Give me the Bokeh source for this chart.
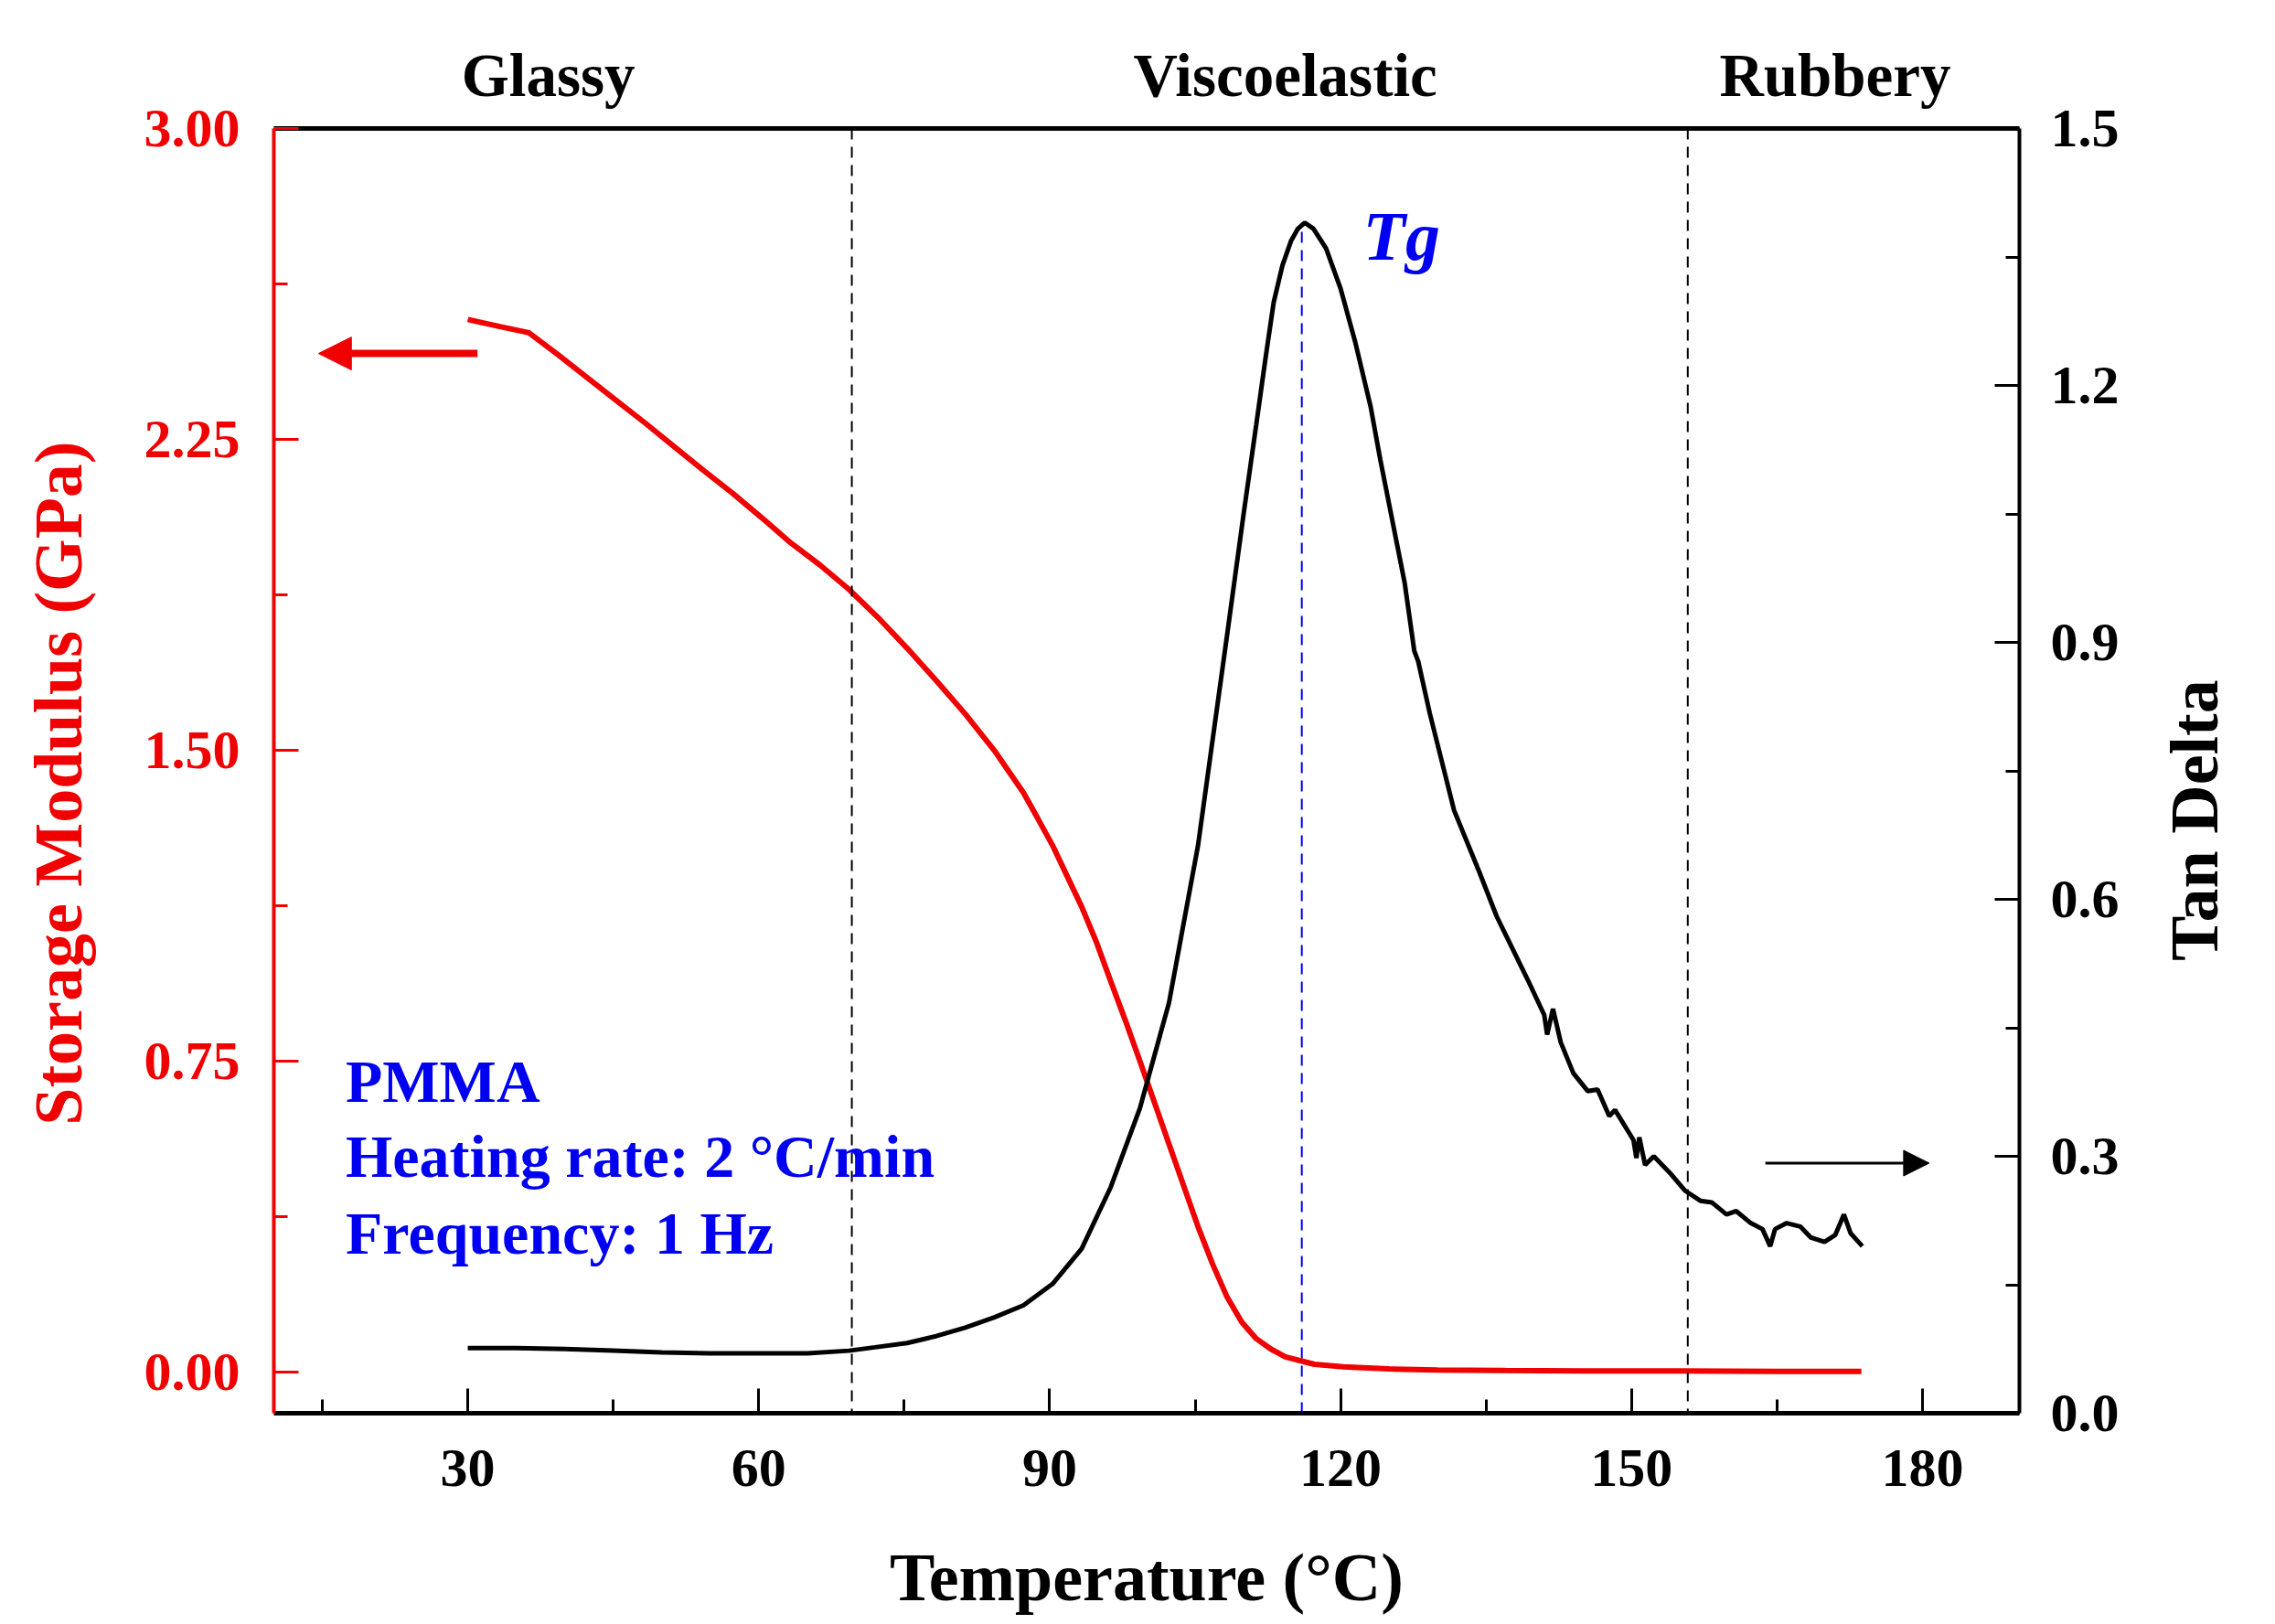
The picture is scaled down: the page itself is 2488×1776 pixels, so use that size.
import math
from bokeh.plotting import figure
from bokeh.models import (Range1d, LinearAxis, FixedTicker, PrintfTickFormatter,
                          Span, Label, Arrow, NormalHead)
from bokeh.embed import file_html
from bokeh.resources import INLINE

FONT = "Liberation Serif"

# ---- data ----
temp_E = [30, 33.3, 36.3, 39.3, 42.3, 45.3, 48.3, 51.3, 54.3, 57.3, 60.3, 63.3, 66.3,
          69.3, 72.3, 75.3, 78.3, 81.3, 84.3, 87.3, 88.8, 90.3, 91.8, 93.3, 94.8, 96.3,
          97.8, 99.3, 100.8, 102.3, 103.8, 105.3, 106.8, 108.3, 109.8, 111.3, 112.8,
          114.3, 117.3, 120.3, 125, 130, 137, 145, 155, 165, 173.7]
modulus = [2.539, 2.522, 2.507, 2.454, 2.399, 2.344, 2.289, 2.232, 2.175, 2.120, 2.061,
           2.000, 1.947, 1.888, 1.820, 1.746, 1.668, 1.587, 1.499, 1.397, 1.334, 1.270,
           1.196, 1.122, 1.038, 0.942, 0.848, 0.750, 0.650, 0.550, 0.450, 0.350, 0.260,
           0.180, 0.120, 0.080, 0.055, 0.036, 0.018, 0.012, 0.007, 0.004, 0.003, 0.002,
           0.002, 0.001, 0.001]

temp_tan = [30, 35, 40, 45, 50, 55, 60, 65, 69.3, 72, 75.3, 78.3, 81.3, 84.3, 87.3, 90.3,
            93.3, 96.3, 99.3, 102.3, 105.3, 108.3, 110.0, 111.3, 112.3, 113.1, 114.0,
            114.9, 115.6, 116.3, 117.2, 118.5, 120, 121.5, 123.1, 124.1, 126.6, 127.6,
            128.0, 129.2, 131.7, 134.3, 136.1, 139.3, 141.0, 141.3, 141.9, 142.7, 144.0,
            145.5, 146.5, 147.7, 148.3, 150.2, 150.5, 150.8, 151.4, 152.3, 154.0, 155.5,
            157.1, 158.3, 159.8, 160.8, 162.3, 163.5, 164.3, 164.8, 166.0, 167.4, 168.5,
            169.9, 171.0, 171.9, 172.6, 173.8]
tan_delta = [0.076, 0.076, 0.075, 0.073, 0.071, 0.070, 0.070, 0.070, 0.073, 0.077, 0.082,
             0.090, 0.100, 0.112, 0.126, 0.151, 0.192, 0.264, 0.356, 0.479, 0.663, 0.909,
             1.050, 1.154, 1.235, 1.297, 1.340, 1.369, 1.383, 1.390, 1.383, 1.360, 1.313,
             1.251, 1.175, 1.113, 0.970, 0.890, 0.878, 0.817, 0.704, 0.632, 0.580, 0.506,
             0.465, 0.442, 0.472, 0.433, 0.397, 0.376, 0.378, 0.347, 0.354, 0.319, 0.298,
             0.322, 0.290, 0.300, 0.280, 0.260, 0.248, 0.246, 0.232, 0.236, 0.222, 0.215,
             0.195, 0.215, 0.222, 0.218, 0.205, 0.200, 0.208, 0.232, 0.210, 0.195]

x_ticks = [30, 60, 90, 120, 150, 180]
x_minor = [15, 45, 75, 105, 135, 165]
left_ticks = [0, 0.75, 1.5, 2.25, 3.0]
left_minor = [0.375, 1.125, 1.875, 2.625]
right_ticks = [0, 0.3, 0.6, 0.9, 1.2, 1.5]
right_minor = [0.15, 0.45, 0.75, 1.05, 1.35]
region_names = ["Glassy", "Viscoelastic", "Rubbery"]
region_pos = [38.3, 114.3, 171.0]
boundary_T = [69.6, 155.8]
Tg = 116.0
Tg_peak = 1.39
info_lines = ["PMMA", "Heating rate: 2 \u00b0C/min", "Frequency: 1 Hz"]
info_y = [0.70, 0.52, 0.335]
x_title, x_title_pos = "Temperature (\u00b0C)", 100.0
left_title, left_title_pos = "Storage Modulus (GPa)", 1.42
right_title, right_title_pos = "Tan Delta", 0.528

RED = "#F00000"
BLUE = "#0000F0"

p = figure(width=2486, height=1774, x_range=Range1d(10, 190), y_range=Range1d(-0.1, 3.0),
           output_backend="svg", toolbar_location=None,
           min_border_left=299, min_border_right=278, min_border_top=140, min_border_bottom=229)
p.extra_y_ranges = {"tan": Range1d(0, 1.5)}
p.xgrid.visible = False
p.ygrid.visible = False
p.outline_line_color = None


def style(ax, color, lw, size="60px"):
    ax.axis_line_color = color
    ax.axis_line_width = lw
    ax.major_tick_line_color = color
    ax.major_tick_line_width = 3
    ax.minor_tick_line_color = color
    ax.minor_tick_line_width = 3
    ax.major_tick_in = 27
    ax.major_tick_out = 0
    ax.minor_tick_in = 15
    ax.minor_tick_out = 0
    ax.major_label_text_font = FONT
    ax.major_label_text_font_style = "bold"
    ax.major_label_text_font_size = size
    ax.major_label_text_color = color


def title_axis(pos, text, color, range_name=None):
    kw = {} if range_name is None else {"y_range_name": range_name}
    ax = LinearAxis(ticker=FixedTicker(ticks=[pos], minor_ticks=[]),
                    major_label_overrides={pos: text}, **kw)
    ax.axis_line_color = None
    ax.major_tick_line_color = None
    ax.minor_tick_line_color = None
    ax.major_tick_in = 0
    ax.major_tick_out = 0
    ax.minor_tick_in = 0
    ax.minor_tick_out = 0
    ax.major_label_text_font = FONT
    ax.major_label_text_font_style = "bold"
    ax.major_label_text_font_size = "74px"
    ax.major_label_text_color = color
    return ax


# bottom axis
xa = p.xaxis[0]
xa.ticker = FixedTicker(ticks=x_ticks, minor_ticks=x_minor)
style(xa, "black", 5)
xa.major_label_standoff = 40

# left axis
ya = p.yaxis[0]
ya.ticker = FixedTicker(ticks=left_ticks, minor_ticks=left_minor)
ya.formatter = PrintfTickFormatter(format="%.2f")
style(ya, RED, 4)
ya.major_label_standoff = 37

# right axis
ra = LinearAxis(y_range_name="tan", ticker=FixedTicker(ticks=right_ticks, minor_ticks=right_minor),
                formatter=PrintfTickFormatter(format="%.1f"))
style(ra, "black", 4)
ra.major_label_standoff = 34
p.add_layout(ra, "right")

# top axis carrying the region names
ta = LinearAxis(ticker=FixedTicker(ticks=region_pos, minor_ticks=[]),
                major_label_overrides={pos: name for pos, name in zip(region_pos, region_names)})
style(ta, "black", 5, size="67px")
ta.major_tick_line_color = None
ta.minor_tick_line_color = None
ta.major_label_standoff = 22
p.add_layout(ta, "above")

# axis titles, placed as single labels of extra axes so they sit where the reference has them
bt = title_axis(x_title_pos, x_title, "black")
bt.major_label_standoff = 56
p.add_layout(bt, "below")

lt = title_axis(left_title_pos, left_title, RED)
lt.major_label_orientation = "vertical"
lt.major_label_standoff = 49
p.add_layout(lt, "left")

rt = title_axis(right_title_pos, right_title, "black", range_name="tan")
rt.major_label_orientation = math.pi / 2
rt.major_label_standoff = 80
p.add_layout(rt, "right")

# region boundaries
for t in boundary_T:
    p.add_layout(Span(location=t, dimension="height", line_color="black",
                      line_dash="12 8", line_width=2))
p.segment(x0=[Tg], y0=[0], x1=[Tg], y1=[Tg_peak], y_range_name="tan",
          line_color=BLUE, line_dash="12 8", line_width=2)

# curves
p.line(temp_E, modulus, line_color=RED, line_width=6)
p.line(temp_tan, tan_delta, line_color="black", line_width=5, y_range_name="tan")

# arrows
p.add_layout(Arrow(x_start=31.0, y_start=2.457, x_end=14.6, y_end=2.457,
                   line_color=RED, line_width=8,
                   end=NormalHead(size=36, fill_color=RED, line_color=RED)))
p.add_layout(Arrow(x_start=163.8, y_start=0.292, x_end=180.7, y_end=0.292,
                   y_range_name="tan", line_color="black", line_width=3,
                   end=NormalHead(size=28, fill_color="black", line_color="black")))

# annotations
for txt, yy in zip(info_lines, info_y):
    p.add_layout(Label(x=17.4, y=yy, text=txt, text_font=FONT, text_font_style="bold",
                       text_font_size="66px", text_color=BLUE, text_baseline="alphabetic"))
p.add_layout(Label(x=122.3, y=1.375, y_range_name="tan", text="Tg", text_font=FONT,
                   text_font_style="bold italic", text_font_size="76px", text_color=BLUE,
                   text_baseline="alphabetic"))

open("out.html", "w").write(file_html(p, INLINE))
